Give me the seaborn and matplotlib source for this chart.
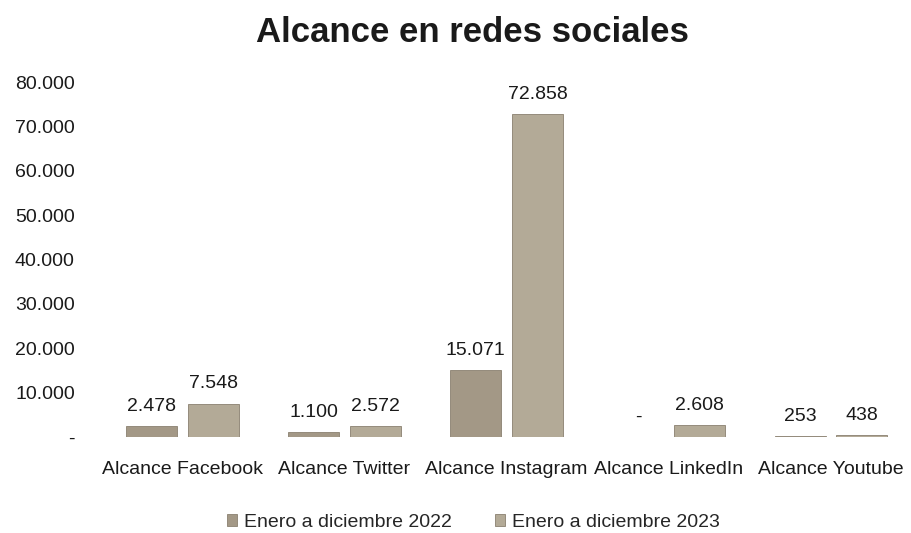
import numpy as np
import pandas as pd
import matplotlib
matplotlib.use('Agg')
import matplotlib.pyplot as plt
import seaborn as sns

categories = ['Alcance Facebook', 'Alcance Twitter', 'Alcance Instagram',
              'Alcance LinkedIn', 'Alcance Youtube']
values_2022 = [2478, 1100, 15071, 0, 253]
values_2023 = [7548, 2572, 72858, 2608, 438]
series = ['Enero a diciembre 2022', 'Enero a diciembre 2023']
yticks = [0, 10000, 20000, 30000, 40000, 50000, 60000, 70000, 80000]


def fmt_num(v):
    # formato con punto de miles, cero como guion
    if v == 0:
        return '-'
    return f'{v:,.0f}'.replace(',', '.')


df = pd.DataFrame({
    'categoria': categories * 2,
    'serie': [series[0]] * len(categories) + [series[1]] * len(categories),
    'valor': values_2022 + values_2023,
})

sns.set_style('white')
plt.rcParams['font.family'] = ['Liberation Sans', 'DejaVu Sans']

fig = plt.figure(figsize=(9.12, 5.33), dpi=100)
ax = fig.add_axes([0.111, 0.18, 0.889, 0.666])

palette = {series[0]: '#a39886', series[1]: '#b3aa97'}
sns.barplot(data=df, x='categoria', y='valor', hue='serie', palette=palette,
            width=0.76, gap=0.17, edgecolor='#8a8070', linewidth=0.6,
            saturation=1, ax=ax)

for cont in ax.containers:
    ax.bar_label(cont, labels=[fmt_num(b.get_height()) for b in cont],
                 padding=8, fontsize=14, color='#1a1a1a')

ax.set_ylim(0, 80000)
ax.set_yticks(yticks)
ax.set_yticklabels([fmt_num(v) for v in yticks], fontsize=14, color='#1a1a1a')
ax.tick_params(axis='y', length=0, pad=19)
ax.tick_params(axis='x', length=0, pad=17, labelsize=14, labelcolor='#1a1a1a')
ax.set_xlabel('')
ax.set_ylabel('')
sns.despine(ax=ax, left=True, bottom=True)

ax.legend(loc='upper center', bbox_to_anchor=(0.459, -0.168), ncol=2,
          frameon=False, fontsize=14, handlelength=0.55, handleheight=0.55,
          handletextpad=0.35, columnspacing=2.2)

fig.suptitle('Alcance en redes sociales', x=0.518, y=0.97,
             fontsize=25, fontweight='bold', color='#1a1a1a')

fig.savefig('out.png', dpi=100)
